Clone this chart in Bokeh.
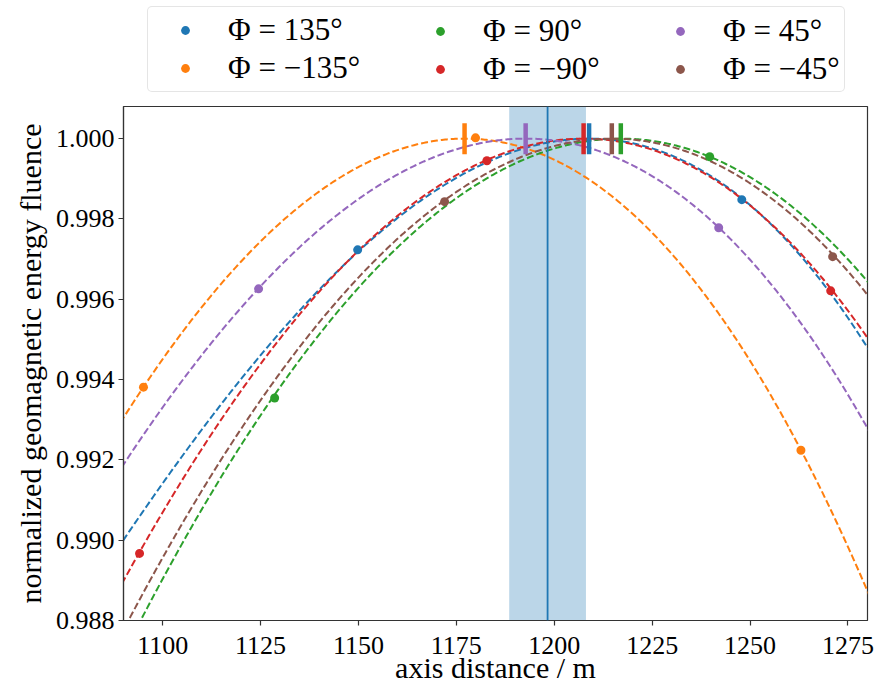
import numpy as np
from bokeh.plotting import figure
from bokeh.layouts import column
from bokeh.models import (Legend, LegendItem, BoxAnnotation, Span, FixedTicker,
                          NumeralTickFormatter, Label)
from bokeh.embed import file_html
from bokeh.resources import INLINE

FONT = "Liberation Serif"

series_labels = ["Φ = 135°", "Φ = −135°", "Φ = 90°", "Φ = −90°", "Φ = 45°", "Φ = −45°"]
series_colors = ["#1f77b4", "#ff7f0e", "#2ca02c", "#d62728", "#9467bd", "#8c564b"]

# simulated points (axis distance / m, normalized geomagnetic energy fluence)
x_p135 = [1149.8, 1247.9]
y_p135 = [0.99723, 0.99848]
x_m135 = [1095.1, 1179.9, 1263.0]
y_m135 = [0.99381, 1.00002, 0.99224]
x_p90 = [1128.6, 1239.7]
y_p90 = [0.99354, 0.99955]
x_m90 = [1094.1, 1182.8, 1270.6]
y_m90 = [0.98967, 0.99945, 0.99621]
x_p45 = [1124.5, 1242.0]
y_p45 = [0.99626, 0.99778]
x_m45 = [1172.0, 1271.1]
y_m45 = [0.99843, 0.99706]

# fit results: position of maximum and shape coefficients
fit_peak = [1208.9, 1177.1, 1217.0, 1207.5, 1192.7, 1214.7]
fit_quad = [9.09e-7, 9.84e-7, 8.63e-7, 8.88e-7, 8.65e-7, 8.69e-7]
fit_cubic = [1.7e-9, 7.8e-10, 5.3e-10, 7.7e-10, 9.3e-10, 6.6e-10]
fit_top = 1.0

band_center = 1198.3
band_low = 1188.5
band_high = 1208.1

x_ticks = [1100, 1125, 1150, 1175, 1200, 1225, 1250, 1275]
y_ticks = [0.988, 0.990, 0.992, 0.994, 0.996, 0.998, 1.000]

x_title = "axis distance / m"
y_title = "normalized geomagnetic energy fluence"

points_x = [x_p135, x_m135, x_p90, x_m90, x_p45, x_m45]
points_y = [y_p135, y_m135, y_p90, y_m90, y_p45, y_m45]

W = 878
LEG_H = 100
MAIN_H = 566
XLAB_H = 40
XLAB_PULL = 21
BL, BR = 123, 11

# ---------------- main plot ----------------
p = figure(width=W, height=MAIN_H, x_range=(1090, 1280), y_range=(0.988, 1.0008),
           output_backend="svg", toolbar_location=None,
           min_border_left=BL, min_border_right=BR, min_border_top=6, min_border_bottom=46)

p.xgrid.visible = False
p.ygrid.visible = False
p.outline_line_color = "#333333"
p.outline_line_width = 1.2

band = BoxAnnotation(left=band_low, right=band_high, fill_color="#1f77b4", fill_alpha=0.3,
                     line_alpha=0, level="underlay")
p.add_layout(band)
p.add_layout(Span(location=band_center, dimension="height", line_color="#1f77b4", line_width=1.8))

xs = np.linspace(1080, 1290, 500)
for i in range(6):
    d = xs - fit_peak[i]
    ys = fit_top - fit_quad[i] * d**2 - fit_cubic[i] * d**3
    p.line(xs, ys, line_color=series_colors[i], line_width=2, line_dash="7 3")
for i in range(6):
    p.scatter(points_x[i], points_y[i], size=9, color=series_colors[i], line_width=0)
for i in range(6):
    p.scatter([fit_peak[i]], [fit_top], marker="dash", angle=np.pi / 2, size=31,
              line_color=series_colors[i], line_width=4.5)

for ax in (p.xaxis[0], p.yaxis[0]):
    ax.axis_line_color = "#333333"
    ax.axis_line_width = 1.2
    ax.major_tick_line_color = "#333333"
    ax.major_tick_line_width = 1.2
    ax.major_tick_out = 5
    ax.major_tick_in = 0
    ax.minor_tick_line_color = None
    ax.major_label_text_font = FONT
    ax.major_label_text_font_size = "26px"
    ax.major_label_text_color = "black"
    ax.axis_label_text_font = FONT
    ax.axis_label_text_font_size = "30px"
    ax.axis_label_text_font_style = "normal"
    ax.axis_label_text_color = "black"

p.xaxis.ticker = FixedTicker(ticks=x_ticks)
p.yaxis.ticker = FixedTicker(ticks=y_ticks)
p.yaxis.formatter = NumeralTickFormatter(format="0.000")
p.yaxis.axis_label = y_title
p.xaxis.major_label_standoff = 11
p.yaxis.major_label_standoff = 4
p.yaxis.axis_label_standoff = 6

# ---------------- x-axis title strip (transparent, overlapping the bottom border) ----------------
xl = figure(width=W, height=XLAB_H, x_range=(0, 1), y_range=(0, 1),
            output_backend="svg", toolbar_location=None,
            min_border_left=BL, min_border_right=BR, min_border_top=0, min_border_bottom=0,
            x_axis_type=None, y_axis_type=None)
xl.outline_line_color = None
xl.xgrid.visible = False
xl.ygrid.visible = False
xl.background_fill_alpha = 0
xl.border_fill_alpha = 0
xl.margin = (-XLAB_PULL, 0, 0, 0)
xl.add_layout(Label(x=0.5, y=18, x_units="data", y_units="screen", text=x_title,
                    text_align="center", text_baseline="alphabetic",
                    text_font=FONT, text_font_size="30px", text_color="black"))

# ---------------- legend strip ----------------
lg = figure(width=W, height=LEG_H, x_range=(0, 1), y_range=(0, 1),
            output_backend="svg", toolbar_location=None,
            min_border_left=BL, min_border_right=BR, min_border_top=0, min_border_bottom=0,
            x_axis_type=None, y_axis_type=None)
lg.outline_line_color = None
lg.xgrid.visible = False
lg.ygrid.visible = False
# key renderers: same series data, lying outside this strip's ranges (only their legend keys show)
key_renderers = [lg.scatter(points_x[k], points_y[k], size=9, color=series_colors[k], line_width=0)
                 for k in range(6)]

cols = [[0, 1], [2, 3], [4, 5]]
col_offsets = [24, 280, 520]
for c, idxs in enumerate(cols):
    items = [LegendItem(label=series_labels[k], renderers=[key_renderers[k]]) for k in idxs]
    leg = Legend(items=items, location=(col_offsets[c], 8), orientation="vertical",
                 padding=5, spacing=2, glyph_width=64, glyph_height=22,
                 label_height=22, label_standoff=11, margin=0,
                 label_text_font=FONT, label_text_font_size="31px", label_text_color="black")
    if c == 0:
        leg.label_width = 611
        leg.border_line_color = "#cccccc"
        leg.border_line_width = 1.2
        leg.background_fill_color = "white"
        leg.background_fill_alpha = 1.0
        try:
            leg.border_radius = 5
        except Exception:
            pass
    else:
        leg.border_line_alpha = 0
        leg.background_fill_alpha = 0
    lg.add_layout(leg)

layout = column(lg, p, xl, spacing=0)
open("out.html", "w").write(file_html(layout, INLINE))
